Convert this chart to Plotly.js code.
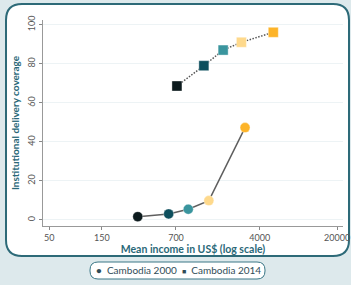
<!DOCTYPE html>
<html>
<head>
<meta charset="utf-8">
<script src="https://cdn.plot.ly/plotly-3.0.1.min.js"></script>
<style>
html,body{margin:0;padding:0;background:#dde9ec;}
#chart{width:351px;height:285px;}
</style>
</head>
<body>
<div id="chart"></div>
<script>
// Data
const income2000 = [316, 601, 904, 1387, 2945];
const coverage2000 = [1.7, 3.1, 5.5, 9.9, 47.3];
const income2014 = [714, 1250, 1867, 2730, 5300];
const coverage2014 = [68.6, 79.0, 87.0, 91.0, 96.1];
const quintileColors = ['#0c1a1d', '#0d4f5d', '#3a959e', '#fed98c', '#fdb429'];
const xTickVals = [50, 150, 700, 4000, 20000];
const xTickText = ['50', '150', '700', '4000', '20000'];
const yTickVals = [0, 20, 40, 60, 80, 100];
const seriesNames = ['Cambodia 2000', 'Cambodia 2014'];

// layout geometry helpers (pixel -> paper)
const W = 351, H = 285, ML = 43, MR = 8, MT = 20, MB = 59;
const PW = W - ML - MR, PH = H - MT - MB;
const px = x => ((x - ML) / PW).toFixed(4);
const py = y => ((H - MB - y) / PH).toFixed(4);
function roundRect(x0, y0, x1, y1, r) {
  return `M${px(x0 + r)},${py(y0)} L${px(x1 - r)},${py(y0)} Q${px(x1)},${py(y0)} ${px(x1)},${py(y0 + r)} ` +
         `L${px(x1)},${py(y1 - r)} Q${px(x1)},${py(y1)} ${px(x1 - r)},${py(y1)} ` +
         `L${px(x0 + r)},${py(y1)} Q${px(x0)},${py(y1)} ${px(x0)},${py(y1 - r)} ` +
         `L${px(x0)},${py(y0 + r)} Q${px(x0)},${py(y0)} ${px(x0 + r)},${py(y0)} Z`;
}

const traces = [
  {
    x: income2000, y: coverage2000, name: seriesNames[0], type: 'scatter', mode: 'lines+markers',
    line: {color: '#5f5f5f', width: 1.5},
    marker: {symbol: 'circle', size: 10, color: quintileColors, line: {color: 'rgba(255,255,255,0.6)', width: 0.6}},
    showlegend: false, hoverinfo: 'x+y'
  },
  {
    x: income2014, y: coverage2014, name: seriesNames[1], type: 'scatter', mode: 'lines+markers',
    line: {color: '#555555', width: 1.5, dash: '1.5px,1.5px'},
    marker: {symbol: 'square', size: 10, color: quintileColors, line: {color: 'rgba(255,255,255,0.6)', width: 0.6}},
    showlegend: false, hoverinfo: 'x+y'
  }
];

const titleColor = '#2a6878';
const layout = {
  width: W, height: H,
  margin: {l: ML, r: MR, t: MT, b: MB, pad: 0},
  paper_bgcolor: '#dde9ec',
  plot_bgcolor: 'rgba(0,0,0,0)',
  font: {family: 'Lato, "Open Sans", sans-serif', size: 9, color: '#555'},
  showlegend: false,
  xaxis: {
    type: 'log',
    range: [Math.log10(44), Math.log10(22600)],
    tickvals: xTickVals, ticktext: xTickText,
    ticks: 'outside', ticklen: 3, tickcolor: '#888', tickwidth: 1,
    showline: true, linecolor: '#999', linewidth: 1,
    showgrid: false, zeroline: false,
    tickfont: {size: 9, color: '#555'},
    title: {text: '<b>Mean income in US$ (log scale)</b>', font: {size: 10.5, color: titleColor}, standoff: 2},
    automargin: false
  },
  yaxis: {
    range: [-3.1, 102.4],
    tickvals: yTickVals,
    tickangle: -90,
    ticks: 'outside', ticklen: 3, tickcolor: '#888', tickwidth: 1,
    showline: true, linecolor: '#999', linewidth: 1,
    showgrid: true, gridcolor: '#edf3f5', gridwidth: 1,
    zeroline: false,
    tickfont: {size: 9, color: '#555'},
    title: {text: '<b>Institutional delivery coverage</b>', font: {size: 10, color: titleColor}, standoff: 4},
    automargin: false
  },
  shapes: [
    {type: 'path', xref: 'paper', yref: 'paper', layer: 'below',
     path: roundRect(6, 4, 349, 256, 16),
     fillcolor: '#ffffff', line: {color: '#2d6a78', width: 2}},
    {type: 'path', xref: 'paper', yref: 'paper', layer: 'below',
     path: roundRect(90, 262, 265, 279, 8),
     fillcolor: '#ffffff', line: {color: '#3a7786', width: 1}}
  ],
  annotations: [
    {xref: 'paper', yref: 'paper', x: px(178), y: py(270.5), xanchor: 'center', yanchor: 'middle',
     showarrow: false,
     text: '<b>•</b>  ' + seriesNames[0] + '  <span style="font-size:7px">■</span>  ' + seriesNames[1],
     font: {size: 10, color: '#2f4c57', family: 'Lato, "Open Sans", sans-serif'}}
  ]
};

Plotly.newPlot('chart', traces, layout, {displayModeBar: false, staticPlot: true});
</script>
</body>
</html>
